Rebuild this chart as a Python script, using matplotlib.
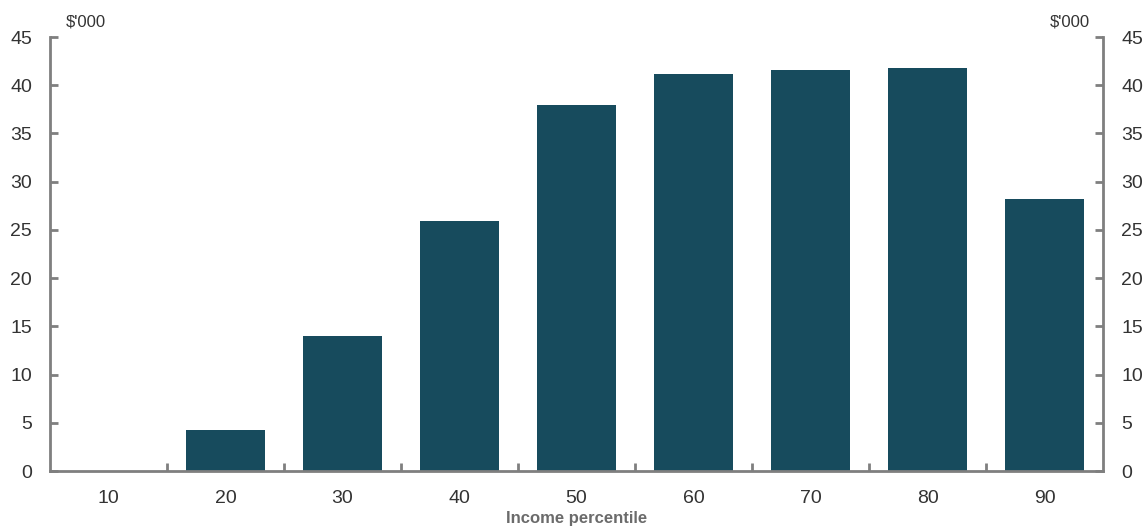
import matplotlib
matplotlib.use("Agg")
import matplotlib.pyplot as plt
from matplotlib import font_manager

percentiles = ["10", "20", "30", "40", "50", "60", "70", "80", "90"]
values = [0.0, 4.3, 14.0, 25.9, 37.9, 41.2, 41.6, 41.8, 28.2]
yticks = [0, 5, 10, 15, 20, 25, 30, 35, 40, 45]

names = {f.name for f in font_manager.fontManager.ttflist}
fam = ["Liberation Sans Narrow", "Liberation Sans", "DejaVu Sans"]
fam = [f for f in fam if f in names] or ["DejaVu Sans"]
plt.rcParams["font.family"] = fam

axis_col = "#7f7f7f"
text_col = "#333333"
bar_col = "#174b5d"

fig = plt.figure(figsize=(11.46, 5.28), dpi=100)
ax = fig.add_axes([50/1146, 1-471/528, (1103-50)/1146, (471-37)/528])

x = list(range(len(percentiles)))
ax.bar(x, values, width=0.67, color=bar_col, zorder=2)
ax.set_xlim(-0.5, len(percentiles)-0.5)
ax.set_ylim(0, 45)

ax.set_xticks(x)
ax.set_xticklabels(percentiles)
ax.set_xticks([i + 0.5 for i in x[:-1]], minor=True)
ax.tick_params(axis="x", which="major", length=0, pad=14, labelsize=14, labelcolor=text_col)
ax.tick_params(axis="x", which="minor", direction="in", length=6, width=2, color=axis_col)

ax.set_yticks(yticks)
ax.tick_params(axis="y", which="major", direction="in", length=6, width=2, color=axis_col,
               labelsize=14, labelcolor=text_col, left=True, right=True,
               labelleft=True, labelright=True, pad=13)

for s in ["left", "right", "bottom"]:
    ax.spines[s].set_color(axis_col)
    ax.spines[s].set_linewidth(2)
ax.spines["top"].set_visible(False)

fig.text(66/1146, 1-30/528, "$'000", ha="left", va="bottom", fontsize=12, color=text_col)
fig.text(1090/1146, 1-30/528, "$'000", ha="right", va="bottom", fontsize=12, color=text_col)

fig.text(ax.get_position().x0 + ax.get_position().width / 2, 1-519/528, "Income percentile",
         ha="center", va="center", fontsize=12, fontweight="bold", color="#6b6b6b")

fig.savefig("out.png", dpi=100)
